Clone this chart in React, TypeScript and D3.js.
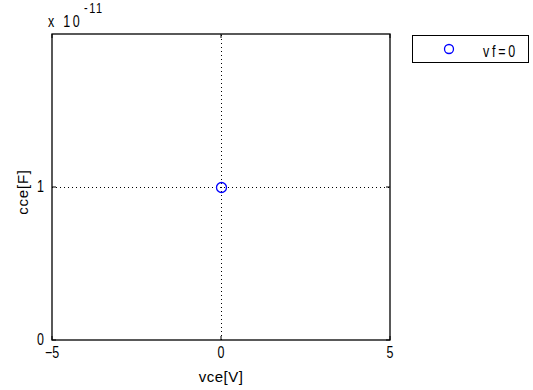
import React from "react";
import * as d3 from "d3";

const vce: number[] = [0];
const cce: number[] = [1e-11];
const seriesName = "vf=0";
const xTicks: number[] = [-5, 0, 5];
const yTicks: number[] = [0, 1e-11];
const yTickLabels: string[] = ["0", "1"];

const W = 533, H = 390;
const m = { left: 52, right: 143, top: 34, bottom: 50 };

function Narrow(props: { x: number; y: number; anchor?: string; size?: number; children: React.ReactNode; ls?: number }) {
  const { x, y, anchor, size, children, ls } = props;
  return (
    <g transform={`translate(${x},${y}) scale(0.78,1)`}>
      <text x={0} y={0} textAnchor={anchor || "start"} fontSize={size || 16} letterSpacing={ls || 0} fill="#000">{children}</text>
    </g>
  );
}

export default function App() {
  const x = d3.scaleLinear().domain([-5, 5]).range([m.left, W - m.right]);
  const y = d3.scaleLinear().domain([0, 2e-11]).range([H - m.bottom, m.top]);
  const font = "'Liberation Sans', Arial, sans-serif";
  const x0 = x(-5), x1 = x(5), y0 = y(0), y1 = y(2e-11);
  return (
    <svg width={W} height={H} style={{ position: "absolute", left: 0, top: 0, background: "#fff" }} fontFamily={font} fontSize={15}>
      <rect x={0} y={0} width={W} height={H} fill="#fff" />
      {/* grid */}
      {xTicks.filter(t => t !== -5 && t !== 5).map(t => (
        <line key={"gx" + t} x1={x(t) + 0.5} x2={x(t) + 0.5} y1={y0} y2={y1} stroke="#000" strokeDasharray="1,3" />
      ))}
      {yTicks.filter(t => t !== 0).map(t => (
        <line key={"gy" + t} x1={x0} x2={x1} y1={y(t) + 0.5} y2={y(t) + 0.5} stroke="#000" strokeDasharray="1,3" />
      ))}
      {/* ticks */}
      {xTicks.map(t => (
        <g key={"tx" + t}>
          <line x1={x(t)} x2={x(t)} y1={y0} y2={y0 - 4} stroke="#000" />
          <line x1={x(t)} x2={x(t)} y1={y1} y2={y1 + 4} stroke="#000" />
          <Narrow x={x(t)} y={y0 + 18} anchor="middle">{t < 0 ? "\u2212" + Math.abs(t) : String(t)}</Narrow>
        </g>
      ))}
      {yTicks.map((t, i) => (
        <g key={"ty" + t}>
          <line x1={x0} x2={x0 + 4} y1={y(t)} y2={y(t)} stroke="#000" />
          <line x1={x1} x2={x1 - 4} y1={y(t)} y2={y(t)} stroke="#000" />
          <Narrow x={44} y={y(t) + 5} anchor="end">{yTickLabels[i]}</Narrow>
        </g>
      ))}
      <rect x={x0} y={y1} width={x1 - x0} height={y0 - y1} fill="none" stroke="#000" strokeWidth={1.3} />
      {/* exponent */}
      <Narrow x={48} y={27} ls={3.5}>x 10</Narrow>
      <Narrow x={84} y={13} size={14} ls={2}>-11</Narrow>
      {/* labels */}
      <text x={(x0 + x1) / 2} y={382} textAnchor="middle" fill="#000" letterSpacing={0.5}>vce[V]</text>
      <text transform={`translate(28,${(y0 + y1) / 2 + 5}) rotate(-90)`} textAnchor="middle" fill="#000" letterSpacing={0.8}>cce[F]</text>
      {/* data */}
      {vce.map((v, i) => (
        <circle key={"p" + i} cx={x(v) + 0.5} cy={y(cce[i]) + 0.5} r={5} fill="none" stroke="#0000ff" strokeWidth={1.3} />
      ))}
      {/* legend */}
      <rect x={412.5} y={35.5} width={116} height={27} fill="#fff" stroke="#000" />
      <circle cx={449} cy={49} r={4.5} fill="none" stroke="#0000ff" strokeWidth={1.3} />
      <Narrow x={483} y={57} ls={3.5}>{seriesName}</Narrow>
    </svg>
  );
}
